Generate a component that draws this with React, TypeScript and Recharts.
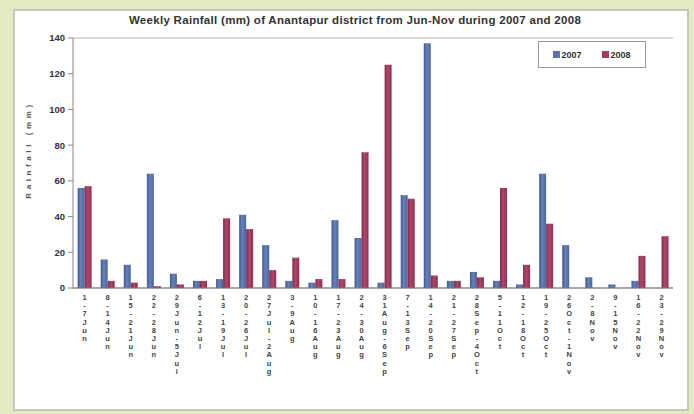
import React from "react";
import {
  BarChart,
  Bar,
  XAxis,
  YAxis,
  CartesianGrid,
  Legend,
} from "recharts";

const weeks = [
  "1-7 Jun", "8-14 Jun", "15-21 Jun", "22-28 Jun", "29 Jun-5 Jul",
  "6-12 Jul", "13-19 Jul", "20-26 Jul", "27 Jul-2 Aug", "3-9 Aug",
  "10-16 Aug", "17-23 Aug", "24-30 Aug", "31 Aug-6 Sep", "7-13 Sep",
  "14-20 Sep", "21-27 Sep", "28 Sep-4 Oct", "5-11 Oct", "12-18 Oct",
  "19-25 Oct", "26 Oct-1 Nov", "2-8 Nov", "9-15 Nov", "16-22 Nov",
  "23-29 Nov",
];
const rain2007 = [56, 16, 13, 64, 8, 4, 5, 41, 24, 4, 3, 38, 28, 3, 52, 137, 4, 9, 4, 2, 64, 24, 6, 2, 4, 0];
const rain2008 = [57, 4, 3, 1, 2, 4, 39, 33, 10, 17, 5, 5, 76, 125, 50, 7, 4, 6, 56, 13, 36, 0, 0, 0, 18, 29];
const yTicks = [0, 20, 40, 60, 80, 100, 120, 140];
const title = "Weekly Rainfall (mm) of Anantapur district from Jun-Nov during 2007 and 2008";
const yTitle = "Rainfall (mm)";

const data = weeks.map((w, i) => ({ week: w, y2007: rain2007[i], y2008: rain2008[i] }));

const FONT = "'Liberation Sans', Arial, sans-serif";

const StackedTick = (props: any) => {
  const { x, y, payload } = props;
  const chars = String(payload.value).replace(/ /g, "").split("");
  return (
    <g>
      {chars.map((c: string, i: number) => (
        <text
          key={i}
          x={x}
          y={y + 4 + i * 8.2}
          textAnchor="middle"
          fontSize={7.5}
          fontWeight="bold"
          fill="#444"
          fontFamily={FONT}
        >
          {c}
        </text>
      ))}
    </g>
  );
};

const legendColors: Record<string, string> = { "2007": "#5a74ab", "2008": "#a23b5e" };

const LegendBox = (props: any) => {
  const { payload } = props;
  return (
    <div
      style={{
        border: "1px solid #9a9a9a",
        background: "#fff",
        height: 27,
        width: 108,
        display: "flex",
        alignItems: "center",
        justifyContent: "space-around",
        fontFamily: FONT,
        fontSize: 9,
        fontWeight: "bold",
        color: "#333",
        boxSizing: "border-box",
        padding: "0 4px",
      }}
    >
      {(payload || []).map((p: any) => (
        <span key={p.value} style={{ display: "flex", alignItems: "center" }}>
          <span
            style={{
              display: "inline-block",
              width: 7,
              height: 7,
              background: legendColors[p.value] || "#888",
              marginRight: 1,
            }}
          />
          {p.value}
        </span>
      ))}
    </div>
  );
};

const YTitle = (props: any) => {
  const { viewBox } = props;
  const cx = viewBox.x + 28;
  const cy = viewBox.y + 112;
  return (
    <text
      x={cx}
      y={cy}
      transform={`rotate(-90 ${cx} ${cy})`}
      textAnchor="middle"
      dominantBaseline="central"
      fontSize={8}
      fontWeight="bold"
      fill="#555"
      letterSpacing={3.6}
      fontFamily={FONT}
    >
      {yTitle}
    </text>
  );
};

export default function App() {
  return (
    <div
      style={{
        position: "absolute",
        left: 0,
        top: 0,
        width: 694,
        height: 414,
        background: "#e3ebc3",
        overflow: "hidden",
      }}
    >
      <div
        style={{
          position: "absolute",
          left: 13,
          top: 9,
          width: 672,
          height: 398,
          background: "#fff",
          border: "2px solid #c4c7bb",
        }}
      />
      <div
        style={{
          position: "absolute",
          left: 0,
          top: 14,
          width: 710,
          textAlign: "center",
          fontFamily: FONT,
          fontSize: 11.5,
          letterSpacing: 0.3,
          fontWeight: "bold",
          color: "#333",
        }}
      >
        {title}
      </div>
      <div style={{ position: "absolute", left: 0, top: 0 }}>
        <BarChart
          width={694}
          height={414}
          data={data}
          margin={{ top: 38, right: 21, left: 0, bottom: 16 }}
          barCategoryGap="20%"
          barGap={0}
        >
          <defs>
            <linearGradient id="g2007" x1="0" y1="0" x2="1" y2="0">
              <stop offset="0%" stopColor="#3f5a90" />
              <stop offset="45%" stopColor="#6682bb" />
              <stop offset="100%" stopColor="#4a659c" />
            </linearGradient>
            <linearGradient id="g2008" x1="0" y1="0" x2="1" y2="0">
              <stop offset="0%" stopColor="#862a4a" />
              <stop offset="45%" stopColor="#b0466b" />
              <stop offset="100%" stopColor="#8e3050" />
            </linearGradient>
          </defs>
          <CartesianGrid vertical={false} stroke="#b2b2b2" strokeWidth={1.2} />
          <XAxis
            dataKey="week"
            height={110}
            interval={0}
            tickLine={false}
            axisLine={{ stroke: "#777", strokeWidth: 1.2 }}
            tick={<StackedTick />}
          />
          <YAxis
            yAxisId="left"
            width={73}
            domain={[0, 140]}
            ticks={yTicks}
            tickSize={5}
            tickMargin={3}
            axisLine={{ stroke: "#888" }}
            tickLine={{ stroke: "#888" }}
            tick={{ fontSize: 9.5, fontWeight: "bold", fill: "#333", fontFamily: FONT }}
            label={<YTitle />}
          />
          <YAxis
            yAxisId="right"
            orientation="right"
            width={0}
            domain={[0, 140]}
            ticks={yTicks}
            tick={false}
            tickLine={false}
            axisLine={{ stroke: "#b2b2b2", strokeWidth: 1.2 }}
          />
          <Legend
            layout="horizontal"
            verticalAlign="middle"
            align="center"
            content={<LegendBox />}
            wrapperStyle={{ position: "absolute", left: 538, top: 41, width: 108, height: 27 }}
          />
          <Bar yAxisId="left" dataKey="y2007" name="2007" fill="url(#g2007)" isAnimationActive={false} />
          <Bar yAxisId="left" dataKey="y2008" name="2008" fill="url(#g2008)" isAnimationActive={false} />
        </BarChart>
      </div>
    </div>
  );
}
